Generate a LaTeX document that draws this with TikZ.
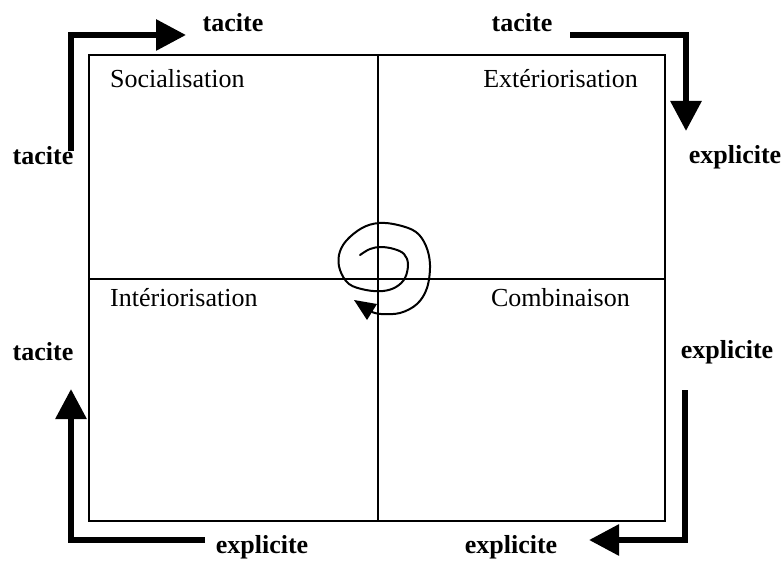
\documentclass[tikz,border=0pt]{standalone}
\usepackage{fontspec}
\setmainfont{Liberation Serif}
\usetikzlibrary{arrows.meta}
\begin{document}
\begin{tikzpicture}[x=1pt,y=-1pt,
  lbl/.style={inner sep=0pt,anchor=base,font=\fontsize{26}{30}\selectfont\bfseries},
  quad/.style={inner sep=0pt,font=\fontsize{26}{30}\selectfont},
  flow/.style={line width=6pt,line join=miter,-{Triangle[length=30pt,width=30pt]}},
  frame/.style={line width=1.3pt}]
\useasboundingbox (0,0) rectangle (784,561);
% frame and axes
\draw[frame] (89,55) rectangle (665,521);
\draw[frame] (378,55) -- (378,521);
\draw[frame] (89,279) -- (665,279);
\draw[line width=2.6pt] (665,390) -- (665,465);
% quadrant labels
\node[quad,anchor=base west] (soc) at (110,88) {Socialisation};
\node[quad,anchor=base east] (ext) at (638,88) {Extériorisation};
\node[quad,anchor=base west] (int) at (110,306) {Intériorisation};
\node[quad,anchor=base east] (comb) at (630,306) {Combinaison};
% outer labels
\node[lbl] (t1) at (233,32) {tacite};
\node[lbl] (t2) at (43,165) {tacite};
\node[lbl] (t3) at (522,32) {tacite};
\node[lbl] (e1) at (735,164) {explicite};
\node[lbl] (e2) at (727,358) {explicite};
\node[lbl] (t4) at (43,360) {tacite};
\node[lbl] (e3) at (262,553) {explicite};
\node[lbl] (e4) at (511,553) {explicite};
% arrow end points
\coordinate (a1s) at (71,151);
\coordinate (a1c) at (71,35);
\coordinate (a1e) at (186,35);
\coordinate (a2s) at (570,35);
\coordinate (a2c) at (686,35);
\coordinate (a2e) at (686,131);
\coordinate (a3s) at (685,390);
\coordinate (a3c) at (685,540);
\coordinate (a3e) at (589,540);
\coordinate (a4s) at (205,540);
\coordinate (a4c) at (71,540);
\coordinate (a4e) at (71,389);
\draw[flow] (a1s) -- (a1c) -- (a1e);
\draw[flow] (a2s) -- (a2c) -- (a2e);
\draw[flow] (a3s) -- (a3c) -- (a3e);
\draw[flow] (a4s) -- (a4c) -- (a4e);
% spiral
\draw[line width=2pt,line join=round,line cap=round]
  plot[smooth,tension=0.6] coordinates {
  (360,255) (370,249) (381,247) (394,249) (404,254) (408,264) (405,278)
  (396,287) (383,291) (366,290) (349,284) (340,270) (339,255) (346,241)
  (362,228) (379,223) (398,225) (416,232) (426,246) (430,265) (427,288)
  (417,304) (400,313) (381,314) (372,312)};
\fill (354,300) -- (377,304) -- (367,320) -- cycle;
\end{tikzpicture}
\end{document}
